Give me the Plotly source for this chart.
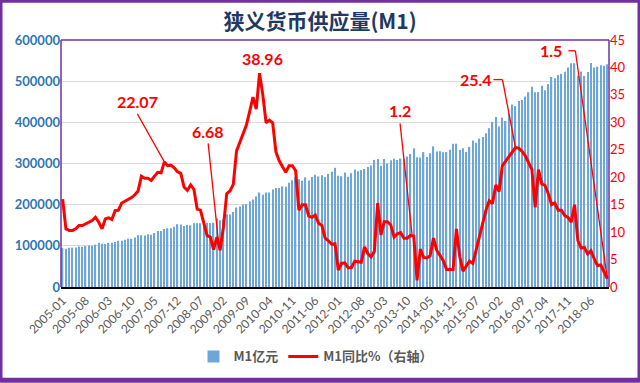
import plotly.graph_objects as go

# ---- data ----
months = [f"{y}-{m:02d}" for y in range(2005, 2019) for m in range(1, 13)][:167]

m1_2005 = [94700, 93000, 95300, 95600, 96000, 98600, 97500, 99400, 100900, 100300, 102900, 107300]
m1_2006 = [104800, 104500, 107300, 107300, 109300, 112300, 112400, 114800, 117000, 116700, 120200, 126000]
m1_2007 = [126000, 125300, 127900, 127200, 131300, 135800, 135800, 141000, 142600, 142500, 146300, 152500]
m1_2008 = [152000, 148000, 150900, 149900, 155100, 154800, 154800, 157200, 156000, 155400, 156300, 166200]
m1_2009 = [162200, 164400, 176500, 176100, 182400, 193100, 195700, 200400, 201700, 207500, 212500, 220000]
m1_2010 = [229600, 224300, 229400, 229500, 236900, 240600, 240700, 244300, 243800, 253300, 259500, 266600]
m1_2011 = [261800, 257900, 266300, 259000, 267000, 272700, 268600, 271700, 267200, 274600, 279800, 289800]
m1_2012 = [270000, 269000, 278000, 268100, 276400, 285500, 281000, 284000, 286800, 291400, 295300, 308700]
m1_2013 = [311200, 294500, 311000, 300000, 307600, 311400, 308200, 312000, 312300, 317300, 323100, 337300]
m1_2014 = [314900, 314800, 327700, 316000, 325000, 341500, 328900, 330000, 327200, 327600, 333500, 348100]
m1_2015 = [348100, 332600, 337200, 328100, 340400, 356100, 350300, 360400, 364400, 373500, 385700, 401000]
m1_2016 = [412900, 390000, 411600, 403300, 421200, 443600, 439300, 451800, 454300, 462800, 473100, 486600]
m1_2017 = [472800, 473500, 488800, 478200, 493000, 510200, 507200, 515000, 517900, 523000, 533000, 543800]
m1_2018 = [543700, 513500, 523500, 512700, 522500, 543900, 533000, 535100, 538600, 537200, 540900]

yoy_2005 = [16.0, 10.6, 10.3, 10.3, 10.6, 11.2, 11.2, 11.5, 11.9, 12.1, 12.7, 11.8]
yoy_2006 = [10.6, 12.4, 12.6, 12.3, 13.9, 14.0, 15.3, 15.6, 16.0, 16.3, 16.8, 17.5]
yoy_2007 = [20.2, 19.8, 19.8, 19.4, 20.2, 20.9, 20.8, 22.8, 22.1, 22.2, 21.7, 21.0]
yoy_2008 = [20.7, 18.2, 17.6, 18.6, 17.8, 14.2, 14.0, 11.5, 9.4, 9.1, 6.8, 9.1]
yoy_2009 = [6.68, 10.9, 17.0, 17.5, 18.7, 24.8, 26.4, 27.7, 29.5, 32.0, 34.6, 32.4]
yoy_2010 = [38.96, 35.0, 29.9, 30.4, 29.9, 24.6, 23.0, 21.9, 20.9, 22.1, 22.1, 21.2]
yoy_2011 = [14.0, 15.0, 15.0, 12.9, 12.7, 13.1, 11.6, 11.2, 8.9, 8.4, 7.8, 7.9]
yoy_2012 = [3.1, 4.3, 4.4, 3.5, 3.5, 4.7, 4.6, 4.5, 7.3, 6.1, 5.5, 6.5]
yoy_2013 = [15.3, 9.5, 11.9, 11.9, 11.3, 9.1, 9.7, 9.9, 8.9, 8.9, 9.4, 9.3]
yoy_2014 = [1.2, 6.9, 5.4, 5.3, 5.7, 8.9, 6.7, 5.7, 4.8, 3.2, 3.2, 3.2]
yoy_2015 = [10.6, 5.6, 2.9, 3.7, 4.7, 4.3, 6.6, 9.3, 11.4, 14.0, 15.7, 15.2]
yoy_2016 = [18.6, 17.4, 22.1, 22.9, 23.7, 24.6, 25.4, 25.3, 24.7, 23.9, 22.7, 21.4]
yoy_2017 = [14.5, 21.4, 18.8, 18.5, 17.0, 15.0, 15.3, 14.0, 14.0, 13.0, 12.7, 11.8]
yoy_2018 = [15.0, 8.5, 7.1, 7.2, 6.0, 6.6, 5.1, 3.9, 4.0, 2.7, 1.5]

m1_values = (m1_2005 + m1_2006 + m1_2007 + m1_2008 + m1_2009 + m1_2010 + m1_2011
             + m1_2012 + m1_2013 + m1_2014 + m1_2015 + m1_2016 + m1_2017 + m1_2018)
yoy_values = (yoy_2005 + yoy_2006 + yoy_2007 + yoy_2008 + yoy_2009 + yoy_2010 + yoy_2011
              + yoy_2012 + yoy_2013 + yoy_2014 + yoy_2015 + yoy_2016 + yoy_2017 + yoy_2018)

tick_labels = months[::7]

# labelled points: (month, label text)
callouts = [("2007-08", "22.07"), ("2009-01", "6.68"), ("2010-01", "38.96"),
            ("2014-01", "1.2"), ("2016-07", "25.4"), ("2018-11", "1.5")]

RED = "#FF0000"
PURPLE = "#7030A0"
FONT = "Lato, 'Noto Sans CJK SC', sans-serif"
CJK = "'Noto Sans CJK SC', Lato, sans-serif"

fig = go.Figure()
fig.add_trace(go.Bar(x=months, y=m1_values, name="M1亿元",
                     marker=dict(color="#6FA6DA", line=dict(width=0))))
fig.add_trace(go.Scatter(x=months, y=yoy_values, name="M1同比%（右轴）", yaxis="y2",
                         mode="lines", line=dict(color=RED, width=3)))

# label offsets (pixels) and leader segments relative to the point
label_off = {"22.07": (-27, 60), "6.68": (-12, 119), "38.96": (3, 15),
             "1.2": (-17, 170), "25.4": (-39, 68), "1.5": (-56, 228)}
leaders = {"22.07": [(-27, 48, 0, 0)],
           "6.68": [(-12, 107, -1, 2)],
           "1.2": [(-17, 157, -5, 46)],
           "25.4": [(-22, 68, -13, 68), (-13, 68, 0, 0)],
           "1.5": [(-39, 228, -32, 228), (-32, 228, 0, 0)]}

annotations = []
shapes = []
lookup = dict(zip(months, yoy_values))
for mon, txt in callouts:
    val = lookup[mon]
    dx, dy = label_off[txt]
    annotations.append(dict(x=mon, y=val, xref="x", yref="y2", text=f"<b>{txt}</b>",
                            showarrow=False, xshift=dx, yshift=dy,
                            font=dict(family=FONT, size=16, color=RED)))
    for (a, b, c, d) in leaders.get(txt, []):
        shapes.append(dict(type="line", xref="x", yref="y2", xsizemode="pixel",
                           ysizemode="pixel", xanchor=mon, yanchor=val,
                           x0=a, y0=b, x1=c, y1=d, line=dict(color=RED, width=1.3)))

# plot-area frame (left, top, right) and outer border
shapes += [
    dict(type="line", xref="paper", yref="paper", x0=0, x1=0, y0=0, y1=1,
         line=dict(color=PURPLE, width=1.5)),
    dict(type="line", xref="paper", yref="paper", x0=0, x1=1, y0=1, y1=1,
         line=dict(color=PURPLE, width=1.5)),
    dict(type="line", xref="paper", yref="paper", x0=1, x1=1, y0=0, y1=1,
         line=dict(color=PURPLE, width=1.5)),
    dict(type="rect", xref="paper", yref="paper", x0=-61/548, x1=1+31/548,
         y0=-94/249, y1=1+40/249, line=dict(color=PURPLE, width=5)),
]

fig.update_layout(
    width=640, height=383,
    margin=dict(l=61, r=31, t=40, b=94),
    paper_bgcolor="white", plot_bgcolor="white",
    bargap=0.6,
    title=dict(text="<b>狭义货币供应量(M1)</b>", x=(320-61)/548, xref="paper",
               y=1-22/383, yanchor="middle", xanchor="center",
               font=dict(family=CJK, size=21, color="#1F3864")),
    xaxis=dict(type="category", tickmode="array", tickvals=tick_labels,
               ticktext=tick_labels, tickangle=-45, showgrid=False,
               showline=True, linecolor="black", linewidth=2, ticks="",
               automargin=False,
               tickfont=dict(family=FONT, size=12, color="#595959")),
    yaxis=dict(range=[0, 600000], dtick=100000, showgrid=True, gridcolor="#D9D9D9",
               zeroline=False, ticks="", tickformat="d", automargin=False,
               tickfont=dict(family=FONT, size=13, color="#2E75B6", weight="bold")),
    yaxis2=dict(range=[0, 45], dtick=5, overlaying="y", side="right", showgrid=False,
                zeroline=False, ticks="", automargin=False,
                tickfont=dict(family=FONT, size=13, color=RED)),
    legend=dict(orientation="h", x=(316-61)/548, xanchor="center",
                y=-(359-289)/249, yanchor="middle",
                font=dict(family=CJK, size=13, color="#595959", weight="bold"),
                bgcolor="rgba(0,0,0,0)"),
    annotations=annotations,
    shapes=shapes,
)

fig.write_html("out.html", config={"displayModeBar": False},
               post_script="document.body.style.margin='0';")
